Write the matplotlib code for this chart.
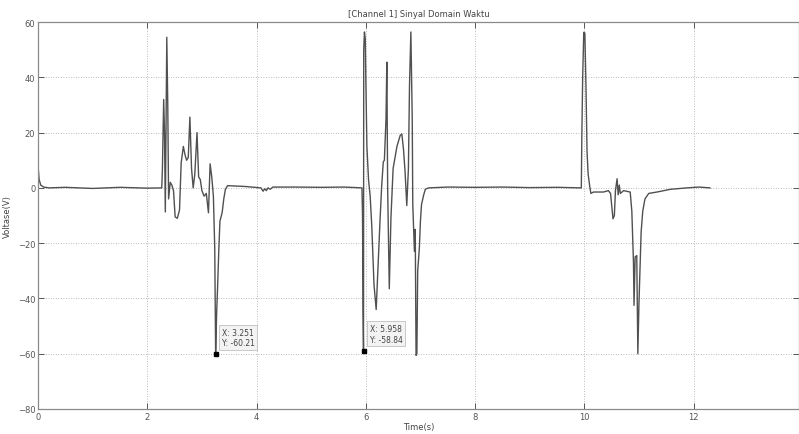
import numpy as np
import matplotlib
matplotlib.use("Agg")
import matplotlib.pyplot as plt

# waveform vertices (time in s, voltage in V)
start_t = [0.0, 0.02, 0.05, 0.1, 0.2, 0.5, 1.0, 1.5, 2.0]
start_v = [8.0, 3.0, 1.0, 0.3, 0.0, 0.2, -0.2, 0.2, -0.1]

burst1_t = [2.265, 2.277, 2.30, 2.315, 2.33, 2.357, 2.375, 2.39, 2.42, 2.45,
            2.48, 2.51, 2.55, 2.59, 2.62, 2.66, 2.69, 2.72, 2.75, 2.78,
            2.81, 2.84, 2.87, 2.91, 2.94, 2.97, 3.0, 3.04, 3.08, 3.12,
            3.15, 3.18, 3.21, 3.235, 3.251, 3.27, 3.285, 3.31, 3.33, 3.37,
            3.40, 3.43, 3.47]
burst1_v = [0, 7, 32, 20, -8.7, 54.5, 30, -4, 2, 1,
            -1, -10.5, -11, -8, 9, 15, 12, 10, 11, 25.6,
            7, 0, 5, 20, 4, 3, -1, -3, -2, -9,
            8.7, 4, -3, -22, -60.21, -45, -37, -22, -12, -9,
            -4, -0.5, 0.8]

quiet1_t = [3.8, 4.08, 4.12, 4.15, 4.18, 4.21, 4.25, 4.3, 4.7, 5.2, 5.6]
quiet1_v = [0.5, 0.0, -1.2, -0.3, -1.0, 0.0, -0.5, 0.3, 0.3, 0.2, 0.3]

burst2_t = [5.93, 5.94, 5.95, 5.958, 5.962, 5.975, 5.99, 6.0, 6.02, 6.05,
            6.08, 6.11, 6.15, 6.19, 6.22, 6.26, 6.29, 6.32, 6.34, 6.37,
            6.385, 6.40, 6.43, 6.46, 6.50, 6.57, 6.63, 6.66, 6.69, 6.72,
            6.75, 6.78, 6.80, 6.825, 6.85, 6.86, 6.89, 6.905, 6.92, 6.935,
            6.95, 6.98, 7.0, 7.02, 7.06, 7.09, 7.15]
burst2_v = [0, -10, -45, -58.84, 50, 56.4, 54, 40, 15, 3,
            -3, -14, -35, -44, -30, -12, 0.5, 9.4, 10, 25,
            45.5, 0, -36.5, -11, 7, 15, 19, 19.5, 14, 5.5,
            -6.4, 7, 37, 56.4, 25, -6, -23, -15, -60.6, -60,
            -30, -22, -12, -6, -2.5, -0.5, 0]

quiet2_t = [7.5, 8.0, 8.5, 9.0, 9.5, 9.9]
quiet2_v = [0.3, 0.2, 0.3, 0.1, 0.2, 0.0]

burst3_t = [9.945, 9.955, 9.97, 9.99, 10.01, 10.03, 10.05, 10.07, 10.1, 10.12,
            10.17, 10.35, 10.44, 10.48, 10.525, 10.55, 10.57, 10.6, 10.62, 10.64,
            10.66, 10.72, 10.84, 10.87, 10.90, 10.91, 10.93, 10.96, 10.98, 11.0,
            11.02, 11.04, 11.07, 11.11, 11.18, 11.33, 11.58, 11.88, 12.1, 12.3]
burst3_v = [0, 19, 40, 56.3, 56, 37, 13, 5, 0.5, -2,
            -1.5, -1.5, -1, -2, -11.2, -10, -1, 3.3, -2.5, 1,
            -2, -1, -1.5, -8.5, -27, -42.5, -25, -24.5, -60, -42,
            -29, -16, -8.4, -4, -2, -1.5, -0.5, 0, 0.3, 0]

# data tips shown in the figure
tip_x = [3.251, 5.958]
tip_y = [-60.21, -58.84]

t = np.concatenate([start_t, burst1_t, quiet1_t, burst2_t, quiet2_t, burst3_t])
v = np.concatenate([start_v, burst1_v, quiet1_v, burst2_v, quiet2_v, burst3_v])

fig = plt.figure(figsize=(7.99, 4.35), dpi=100)
ax = fig.add_axes([0.0476, 0.0575, 0.9524, 0.8895])

ax.plot(t, v, color='#505050', linewidth=1.0)

ax.plot(tip_x, tip_y, 's', color='k', markersize=3.5)
for x, y in zip(tip_x, tip_y):
    ax.annotate('X: %.3f\nY: %.2f' % (x, y), xy=(x, y), xytext=(6, 7),
                textcoords='offset pixels', ha='left', va='bottom',
                fontsize=5.5, color='#444444', linespacing=1.2,
                bbox=dict(boxstyle='square,pad=0.35', fc='#f3f3f3',
                          ec='#c0c0c0', lw=0.6))

ax.set_xlim(0, 13.93)
ax.set_ylim(-80, 60)
ax.set_xticks(range(0, 13, 2))
ax.set_yticks(range(-80, 61, 20))
ax.grid(True, linestyle=(0, (1, 2)), color='#a5a5a5', linewidth=0.6)

ax.tick_params(direction='in', length=4, width=0.7, colors='#555555',
               labelsize=6, top=True, right=True, pad=2)
for sp in ax.spines.values():
    sp.set_color('#8a8a8a')
    sp.set_linewidth(0.9)

ax.set_title('[Channel 1] Sinyal Domain Waktu', fontsize=6, color='#444444', pad=4)
ax.set_xlabel('Time(s)', fontsize=6, color='#444444', labelpad=1)
ax.set_ylabel('Voltase(V)', fontsize=6, color='#444444', labelpad=4)

fig.savefig('out.png', dpi=100)
